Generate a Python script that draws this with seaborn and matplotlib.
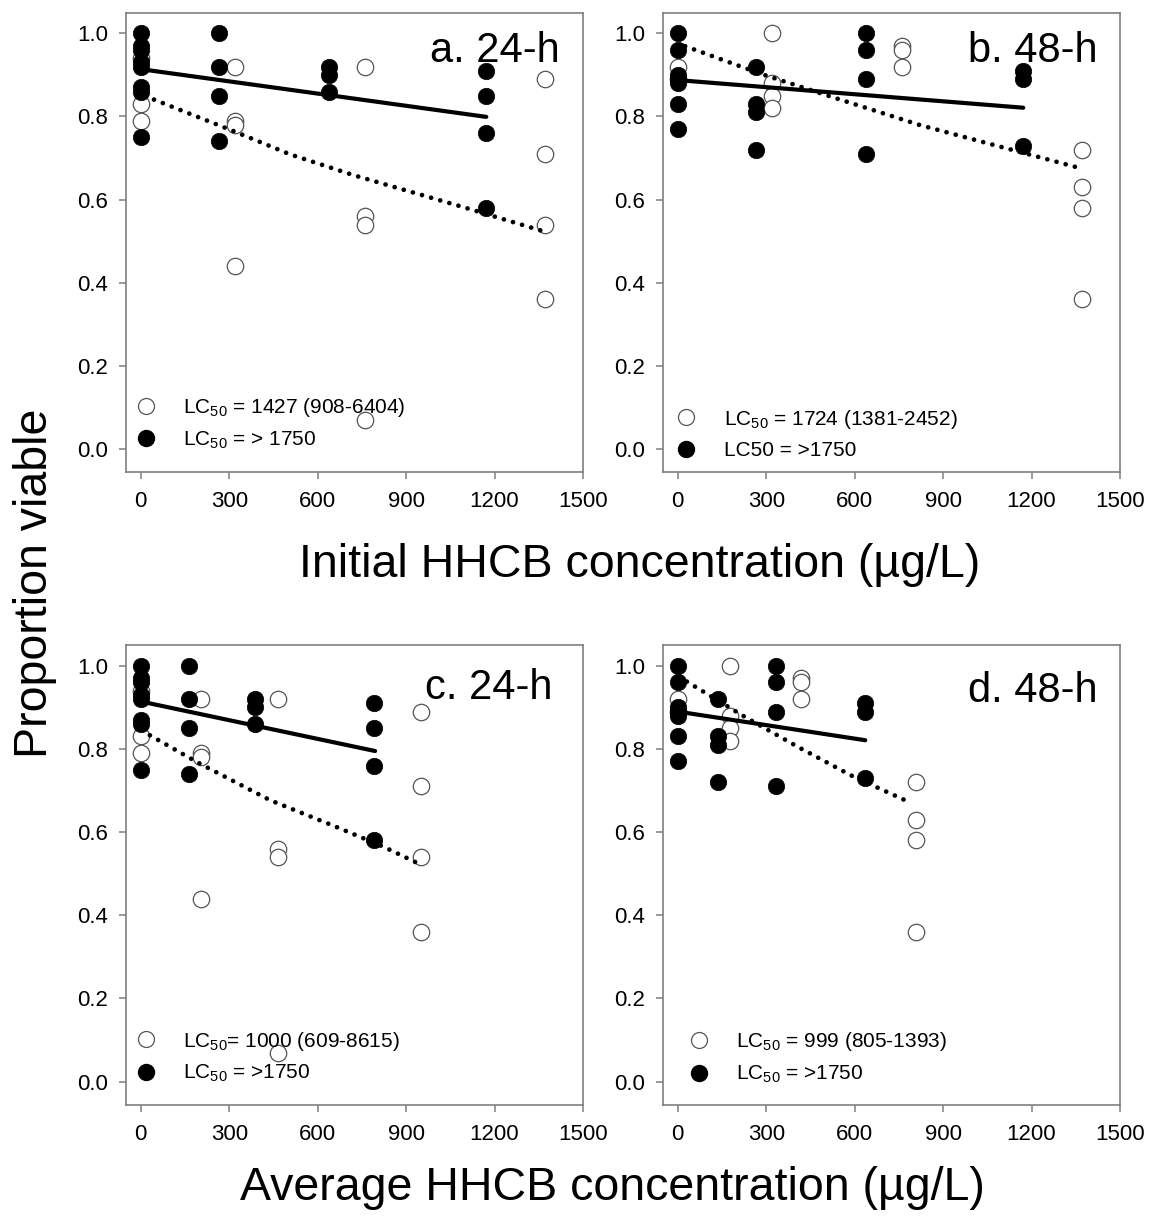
import numpy as np
import pandas as pd
import seaborn as sns
import matplotlib
matplotlib.use("Agg")
import matplotlib.pyplot as plt
from matplotlib.lines import Line2D

# ---------------- data ----------------
# Panel a: 24-h, initial concentration
a_filled_x = [0, 0, 0, 0, 0, 0, 0, 0, 265, 265, 265, 265, 640, 640, 640, 1170, 1170, 1170, 1170]
a_filled_y = [1.00, 0.97, 0.96, 0.93, 0.92, 0.87, 0.86, 0.75, 1.00, 0.92, 0.85, 0.74, 0.92, 0.90, 0.86, 0.91, 0.85, 0.76, 0.58]
a_open_x = [0, 0, 0, 320, 320, 320, 320, 760, 760, 760, 760, 1370, 1370, 1370, 1370]
a_open_y = [0.94, 0.83, 0.79, 0.92, 0.79, 0.78, 0.44, 0.92, 0.56, 0.54, 0.07, 0.89, 0.71, 0.54, 0.36]
a_solid_x = [8, 1172]
a_solid_y = [0.913, 0.799]
a_dot_x = [15, 314, 506, 721, 1094, 1356]
a_dot_y = [0.849, 0.765, 0.709, 0.659, 0.582, 0.526]

# Panel b: 48-h, initial concentration
b_filled_x = [0, 0, 0, 0, 0, 0, 0, 265, 265, 265, 265, 640, 640, 640, 640, 1170, 1170, 1170]
b_filled_y = [1.00, 0.96, 0.90, 0.89, 0.88, 0.83, 0.77, 0.92, 0.83, 0.81, 0.72, 1.00, 0.96, 0.89, 0.71, 0.91, 0.89, 0.73]
b_open_x = [0, 0, 320, 320, 320, 320, 760, 760, 760, 1370, 1370, 1370, 1370]
b_open_y = [0.92, 0.89, 1.00, 0.88, 0.85, 0.82, 0.97, 0.96, 0.92, 0.72, 0.63, 0.58, 0.36]
b_solid_x = [8, 1172]
b_solid_y = [0.887, 0.821]
b_dot_x = [25, 280, 505, 823, 1106, 1358]
b_dot_y = [0.969, 0.903, 0.851, 0.779, 0.725, 0.677]

# Panel c: 24-h, average concentration
c_filled_x = [0, 0, 0, 0, 0, 0, 0, 0, 164, 164, 164, 164, 387, 387, 387, 792, 792, 792, 792]
c_filled_y = [1.00, 0.97, 0.96, 0.93, 0.92, 0.87, 0.86, 0.75, 1.00, 0.92, 0.85, 0.74, 0.92, 0.90, 0.86, 0.91, 0.85, 0.76, 0.58]
c_open_x = [0, 0, 0, 204, 204, 204, 204, 464, 464, 464, 464, 949, 949, 949, 949]
c_open_y = [0.94, 0.83, 0.79, 0.92, 0.79, 0.78, 0.44, 0.92, 0.56, 0.54, 0.07, 0.89, 0.71, 0.54, 0.36]
c_solid_x = [8, 795]
c_solid_y = [0.913, 0.795]
c_dot_x = [31, 189, 438, 665, 823, 946]
c_dot_y = [0.833, 0.769, 0.677, 0.612, 0.565, 0.523]

# Panel d: 48-h, average concentration
d_filled_x = [0, 0, 0, 0, 0, 0, 0, 138, 138, 138, 138, 333, 333, 333, 333, 634, 634, 634]
d_filled_y = [1.00, 0.96, 0.90, 0.89, 0.88, 0.83, 0.77, 0.92, 0.83, 0.81, 0.72, 1.00, 0.96, 0.89, 0.71, 0.91, 0.89, 0.73]
d_open_x = [0, 0, 178, 178, 178, 178, 418, 418, 418, 809, 809, 809, 809]
d_open_y = [0.92, 0.89, 1.00, 0.88, 0.85, 0.82, 0.97, 0.96, 0.92, 0.72, 0.63, 0.58, 0.36]
d_solid_x = [8, 636]
d_solid_y = [0.889, 0.821]
d_dot_x = [31, 223, 410, 597, 789]
d_dot_y = [0.962, 0.879, 0.804, 0.733, 0.671]

panel_titles = ["a. 24-h", "b. 48-h", "c. 24-h", "d. 48-h"]
legend_open = [r"LC$_{50}$ = 1427 (908-6404)", r"LC$_{50}$ = 1724 (1381-2452)",
               r"LC$_{50}$= 1000 (609-8615)", r"LC$_{50}$ = 999 (805-1393)"]
legend_filled = [r"LC$_{50}$ = > 1750", "LC50 = >1750",
                 r"LC$_{50}$ = >1750", r"LC$_{50}$ = >1750"]
x_ticks = [0, 300, 600, 900, 1200, 1500]
y_ticks = [0.0, 0.2, 0.4, 0.6, 0.8, 1.0]
y_label = "Proportion viable"
x_label_top = "Initial HHCB concentration (µg/L)"
x_label_bottom = "Average HHCB concentration (µg/L)"

# ---------------- style ----------------
sns.set_theme(style="ticks")
plt.rcParams["font.family"] = ["Liberation Sans", "DejaVu Sans"]
plt.rcParams["mathtext.default"] = "regular"
plt.rcParams["text.color"] = "black"

W, H = 1152, 1217
fig = plt.figure(figsize=(W / 100, H / 100), dpi=100)

def add_ax(left, top, right, bottom):
    return fig.add_axes([left / W, 1 - bottom / H, (right - left) / W, (bottom - top) / H])

axes = [add_ax(126, 12.5, 583, 472), add_ax(663, 12.5, 1120, 472),
        add_ax(126, 645, 583, 1104.5), add_ax(663, 645, 1120, 1104.5)]

panels = [
    (a_filled_x, a_filled_y, a_open_x, a_open_y, a_solid_x, a_solid_y, a_dot_x, a_dot_y),
    (b_filled_x, b_filled_y, b_open_x, b_open_y, b_solid_x, b_solid_y, b_dot_x, b_dot_y),
    (c_filled_x, c_filled_y, c_open_x, c_open_y, c_solid_x, c_solid_y, c_dot_x, c_dot_y),
    (d_filled_x, d_filled_y, d_open_x, d_open_y, d_solid_x, d_solid_y, d_dot_x, d_dot_y),
]
title_pos = [(0.950, 0.960), (0.950, 0.960), (0.934, 0.950), (0.950, 0.943)]
legend_pos = [(0.020, 0.046), (0.028, 0.026), (0.020, 0.044), (0.055, 0.042)]

grey = "#7f7f7f"
for i, (ax, p) in enumerate(zip(axes, panels)):
    fx, fy, ox, oy, sx, sy, dx, dy = p
    df_open = pd.DataFrame({"x": ox, "y": oy})
    df_fill = pd.DataFrame({"x": fx, "y": fy})
    sns.scatterplot(data=df_open, x="x", y="y", ax=ax, s=140, facecolor="white",
                    edgecolor="#555555", linewidth=0.9, zorder=3)
    sns.scatterplot(data=df_fill, x="x", y="y", ax=ax, s=140, color="black",
                    edgecolor="black", linewidth=0.5, zorder=4)
    sns.lineplot(x=sx, y=sy, ax=ax, color="black", linewidth=3.0, zorder=5,
                 solid_capstyle="round")
    sns.lineplot(x=dx, y=dy, ax=ax, color="black", linewidth=3.4, zorder=5,
                 linestyle=(0, (0.01, 2.0)), dash_capstyle="round")

    ax.set_xlim(-50, 1500)
    ax.set_ylim(-0.055, 1.05)
    ax.set_xticks(x_ticks)
    ax.set_yticks(y_ticks)
    ax.set_yticklabels([f"{v:.1f}" for v in y_ticks])
    ax.set_xlabel("")
    ax.set_ylabel("")
    for sp in ax.spines.values():
        sp.set_color(grey)
        sp.set_linewidth(1.2)
    ax.tick_params(axis="both", direction="out", length=5, width=1.1, color=grey,
                   labelsize=16, labelcolor="black")
    ax.tick_params(axis="x", pad=9)
    ax.tick_params(axis="y", pad=8)

    ax.text(title_pos[i][0], title_pos[i][1], panel_titles[i], transform=ax.transAxes,
            ha="right", va="top", fontsize=30, color="black")

    h_open = Line2D([], [], linestyle="none", marker="o", markersize=11.5,
                    markerfacecolor="white", markeredgecolor="#555555", markeredgewidth=0.9)
    h_fill = Line2D([], [], linestyle="none", marker="o", markersize=11.5,
                    markerfacecolor="black", markeredgecolor="black")
    ax.legend([h_open, h_fill], [legend_open[i], legend_filled[i]], loc="lower left",
              bbox_to_anchor=legend_pos[i], frameon=False, fontsize=15,
              handlelength=1.0, handletextpad=1.3, borderpad=0, borderaxespad=0,
              labelspacing=0.5)

fig.text(35 / W, 1 - 583 / H, y_label, rotation=90, ha="center", va="center", fontsize=33.5)
fig.text(640 / W, 1 - 565 / H, x_label_top, ha="center", va="center", fontsize=33.5)
fig.text(612 / W, 1 - 1188 / H, x_label_bottom, ha="center", va="center", fontsize=33.5)

fig.savefig("out.png", dpi=100)
